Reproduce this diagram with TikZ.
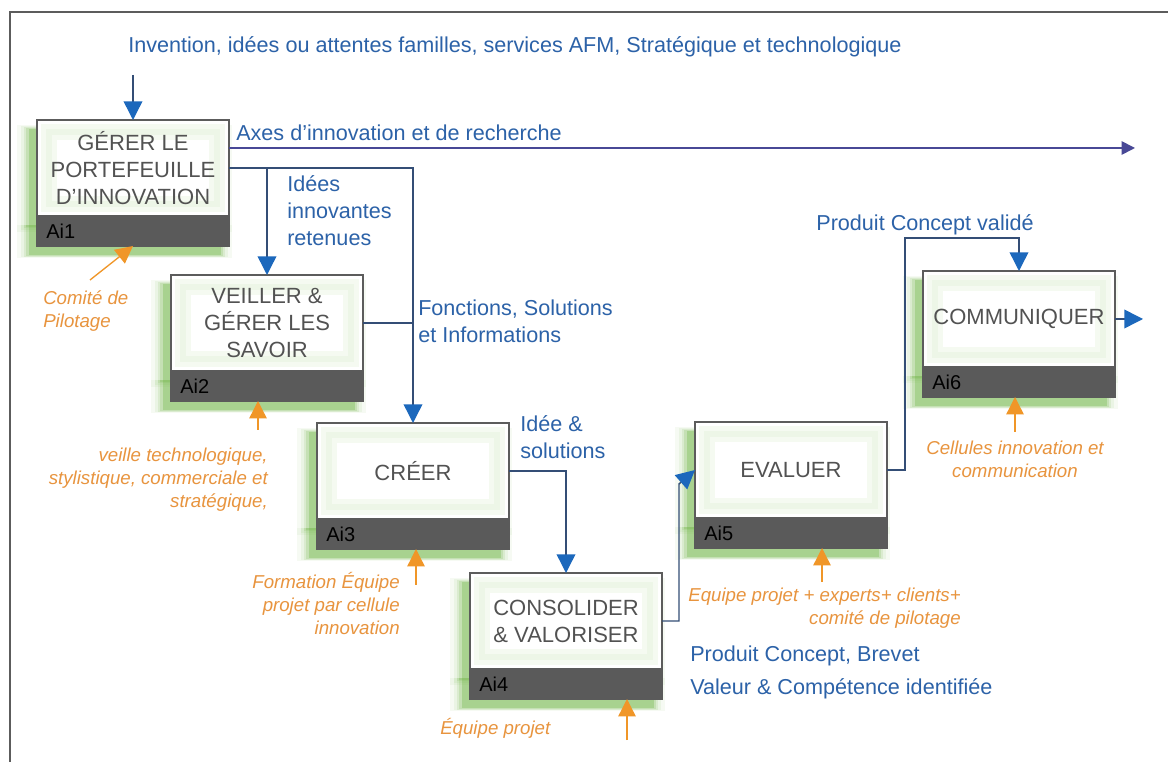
\documentclass[tikz,border=0pt]{standalone}
\usepackage{fontspec}
\setmainfont{Liberation Sans}
\usepackage{xcolor}
\definecolor{Bleu}{RGB}{44,98,168}
\definecolor{BleuFleche}{RGB}{28,104,188}
\definecolor{BleuTrait}{RGB}{52,78,118}
\definecolor{Violet}{RGB}{72,72,150}
\definecolor{Orange}{RGB}{240,150,40}
\definecolor{OrangeTxt}{RGB}{232,148,62}
\definecolor{Cadre}{RGB}{92,92,92}
\definecolor{Barre}{RGB}{90,90,90}
\definecolor{Texte}{RGB}{82,82,82}
\definecolor{Halo}{RGB}{104,178,58}
\usetikzlibrary{calc, positioning, arrows.meta, shadows}

\begin{document}
\begin{tikzpicture}[x=0.75pt, y=-0.75pt,
  halo/.style={
    general shadow={fill=Halo, opacity=.06, shadow scale=1.12,
      shadow xshift=-6pt, shadow yshift=-7pt},
    general shadow={fill=Halo, opacity=.08, shadow scale=1.08,
      shadow xshift=-6pt, shadow yshift=-7pt},
    general shadow={fill=Halo, opacity=.12, shadow scale=1.05,
      shadow xshift=-6pt, shadow yshift=-7pt},
    general shadow={fill=Halo, opacity=.18, shadow scale=1.025,
      shadow xshift=-6pt, shadow yshift=-7pt},
    general shadow={fill=Halo, opacity=.3,
      shadow xshift=-6pt, shadow yshift=-7pt}},
  act/.style={rectangle, draw=Cadre, line width=0.9pt, fill=white,
    minimum width=144pt, minimum height=72pt, inner sep=0pt, outer sep=0pt,
    align=center, text=Texte, font=\fontsize{16.5}{20.25}\selectfont, halo,
    path picture={
      \draw[Halo!7, line width=12pt]
        ([xshift=9pt, yshift=-9pt]path picture bounding box.north west) rectangle
        ([xshift=-9pt, yshift=9pt]path picture bounding box.south east);
      \draw[Halo!12, line width=5pt]
        ([xshift=9pt, yshift=-9pt]path picture bounding box.north west) rectangle
        ([xshift=-9pt, yshift=9pt]path picture bounding box.south east);
    }},
  barre/.style={rectangle, fill=Barre, draw=Barre, line width=0.9pt,
    minimum height=22.5pt, text width=130pt, inner xsep=7pt, inner ysep=0pt,
    outer sep=0pt, align=left, text=black, anchor=north,
    font=\fontsize{15}{18}\selectfont, halo},
  lab/.style={text=Bleu, font=\fontsize{16.2}{20.25}\selectfont,
    inner sep=0pt, align=left},
  res/.style={text=OrangeTxt, font=\itshape\fontsize{14}{17.25}\selectfont,
    inner sep=0pt},
  flux/.style={draw=BleuTrait, line width=1.1pt,
    -{Triangle[length=14pt, width=14pt, color=BleuFleche]}},
  lien/.style={draw=BleuTrait, line width=1.1pt},
  axe/.style={draw=Violet, line width=1.3pt, -{Triangle[length=10pt, width=10pt]}},
  pil/.style={draw=Orange, line width=1pt, -{Triangle[length=13pt, width=13pt]}}
]
\useasboundingbox (0,0) rectangle (1168,762);
\fill[white] (0,0) rectangle (1168,762);
\draw[Cadre, line width=1.6pt] (1168,12) -- (10,12) -- (10,762);

%% ── Activités ────────────────────────────────────────────────────────
\node[act] (ai1) at (133,168) {GÉRER LE\\PORTEFEUILLE\\D'INNOVATION};
\node[barre] (ai1b) at (ai1.south) {Ai1};

\node[act] (ai2) at (267,323) {VEILLER \&\\GÉRER LES\\SAVOIR};
\node[barre] (ai2b) at (ai2.south) {Ai2};

\node[act] (ai3) at (413,471) {CRÉER};
\node[barre] (ai3b) at (ai3.south) {Ai3};

\node[act] (ai4) at (566,621) {CONSOLIDER\\\& VALORISER};
\node[barre] (ai4b) at (ai4.south) {Ai4};

\node[act] (ai5) at (791,470) {EVALUER};
\node[barre] (ai5b) at (ai5.south) {Ai5};

\node[act] (ai6) at (1019,319) {COMMUNIQUER};
\node[barre] (ai6b) at (ai6.south) {Ai6};

%% ── Flux (bleu) ──────────────────────────────────────────────────────
\node[lab, anchor=west] (entree) at (128,47)
  {Invention, idées ou attentes familles, services AFM, Stratégique et technologique};
\node[lab, anchor=west] (axes) at (236,133) {Axes d'innovation et de recherche};
\node[lab, anchor=west] (idees) at (287,211) {Idées\\innovantes\\retenues};
\node[lab, anchor=west] (fonct) at (418,321) {Fonctions, Solutions\\et Informations};
\node[lab, anchor=west] (sol) at (520,437) {Idée \&\\solutions};
\node[lab] (valide) at (925,225) {Produit Concept validé};
\node[lab, anchor=west] (brevet) at (690,672)
  {Produit Concept, Brevet\\[4.5pt]Valeur \& Compétence identifiée};

\coordinate (e1) at (133,75);
\coordinate (fin) at (1135,148);
\coordinate (k4) at (679,484);
\coordinate (k5) at (905,238);
\coordinate (s6) at (1143,319);

\draw[flux] (e1) -- (ai1.north);
\draw[axe] (ai1.east |- fin) -- (fin);
\draw[flux] (ai1.east) -| (ai3.north);
\draw[flux] (ai1.east -| ai2.north) -- (ai2.north);
\draw[lien] (ai2.east) -- (ai2.east -| ai3.north);
\draw[flux] (ai3.east) -| (ai4.north);
\draw[flux] (ai4.east) -| (k4) -- (ai5.west);
\draw[flux] (ai5.east) -| (k5) -| (ai6.north);
\draw[flux] (ai6.east) -- (s6);

%% ── Ressources (orange) ──────────────────────────────────────────────
\node[res, anchor=west, align=left] (comite) at (43,311) {Comité de\\Pilotage};
\node[res, anchor=east, align=right] (veille) at (268,480)
  {veille technologique,\\stylistique, commerciale et\\stratégique,};
\node[res, anchor=east, align=right] (forma) at (400,603)
  {Formation Équipe\\projet par cellule\\innovation};
\node[res, anchor=west] (equipe) at (440,728) {Équipe projet};
\node[res, anchor=east, align=right] (experts) at (961,608)
  {Equipe projet + experts+ clients+\\comité de pilotage};
\node[res, align=center] (cellules) at (1015,459)
  {Cellules innovation et\\communication};

\coordinate (o1) at (90,280);
\coordinate (o2) at (258,430);
\coordinate (o3) at (416,585);
\coordinate (o4) at (627,740);
\coordinate (o5) at (822,582);
\coordinate (o6) at (1015,432);

\draw[pil] (o1) -- (ai1b.south);
\draw[pil] (o2) -- (o2 |- ai2b.south);
\draw[pil] (o3) -- (o3 |- ai3b.south);
\draw[pil] (o4) -- (o4 |- ai4b.south);
\draw[pil] (o5) -- (o5 |- ai5b.south);
\draw[pil] (o6) -- (o6 |- ai6b.south);

\end{tikzpicture}
\end{document}
